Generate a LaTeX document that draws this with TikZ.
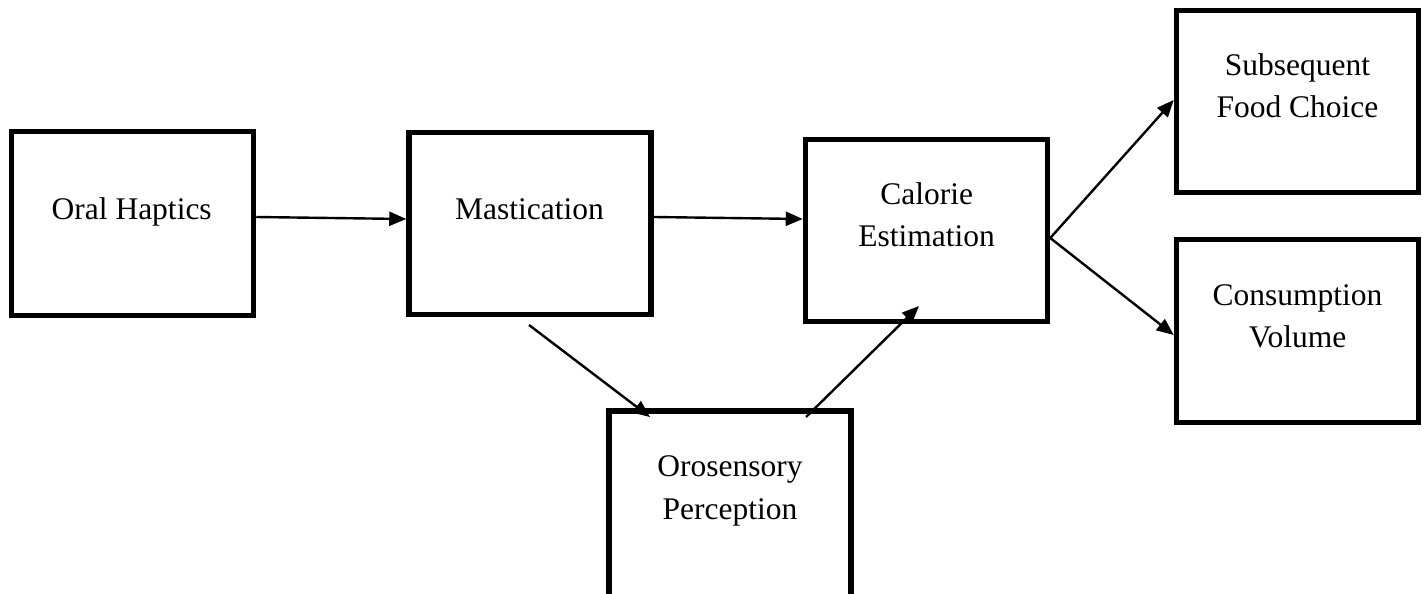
\documentclass[tikz,border=0pt]{standalone}
\usepackage{fontspec}
\setmainfont{Liberation Serif}
\usetikzlibrary{arrows.meta}
\newcommand\twolines[2]{\begin{tabular}[t]{@{}c@{}}#1\\#2\end{tabular}}
\begin{document}
\begin{tikzpicture}[x=1pt,y=-1pt,
  box/.style={draw,line width=5.5pt,rectangle,inner sep=0pt,minimum width=242pt},
  lbl/.style={anchor=base,inner sep=0pt,font=\fontsize{31.5}{42.5}\selectfont},
  arr/.style={line width=2.4pt,-{Triangle[length=17pt,width=14pt]}}]
\useasboundingbox[fill=white] (0,0) rectangle (1425,594);
\clip (0,0) rectangle (1425,594);
% boxes
\node[box,minimum height=184pt] (oral) at (132.5,223.5) {};
\node[box,minimum height=182pt] (mast) at (530,223.5) {};
\node[box,minimum height=182pt] (cal)  at (926.5,230.5) {};
\node[box,minimum height=190pt] (oro)  at (730,506) {};
\node[box,minimum height=182pt] (sub)  at (1297.5,101.5) {};
\node[box,minimum height=183pt] (cons) at (1297.5,331) {};
% texts
\node[lbl] (toral) at (131.7,219) {Oral Haptics};
\node[lbl] (tmast) at (529.5,219.3) {Mastication};
\node[lbl] (tcal)  at (926.7,204) {\twolines{Calorie}{Estimation}};
\node[lbl] (toro)  at (730,476.7) {\twolines{Orosensory}{Perception}};
\node[lbl] (tsub)  at (1297.5,75) {\twolines{Subsequent}{Food Choice}};
\node[lbl] (tcons) at (1297.5,305) {\twolines{Consumption}{Volume}};
% free ends
\coordinate (mastout) at (529,325);
\coordinate (oroin) at (650,417);
\coordinate (oroout) at (806,417);
\coordinate (calin) at (919,306);
% connectors
\draw[arr] (oral.east |- 0,217) -- (mast.west |- 0,219);
\draw[arr] (mast.east |- 0,217) -- (cal.west |- 0,219);
\draw[arr] (mastout) -- (oroin);
\draw[arr] (oroout) -- (calin);
\draw[arr] (cal.east |- 0,238) -- (sub.west |- 0,100);
\draw[arr] (cal.east |- 0,238) -- (cons.west |- 0,335);
\end{tikzpicture}
\end{document}
